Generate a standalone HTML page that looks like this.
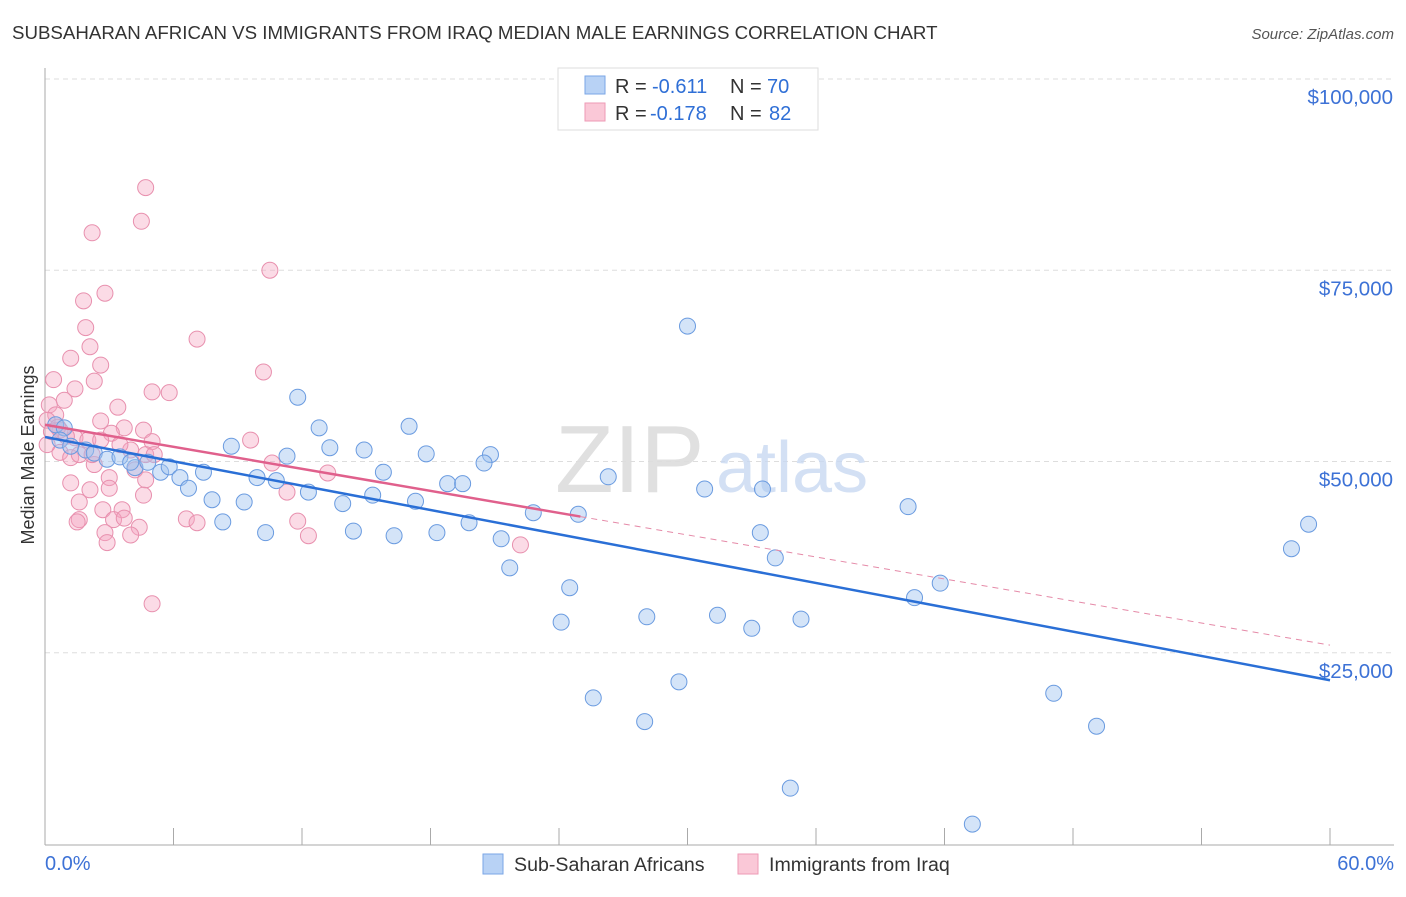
<!DOCTYPE html>
<html><head><meta charset="utf-8"><style>
body{margin:0;background:#fff;font-family:"Liberation Sans",sans-serif;}
svg text{font-family:"Liberation Sans",sans-serif;}
</style></head><body>
<svg id="chart" width="1406" height="892" xmlns="http://www.w3.org/2000/svg">
<text x="12" y="39" font-size="18.7" fill="#333">SUBSAHARAN AFRICAN VS IMMIGRANTS FROM IRAQ MEDIAN MALE EARNINGS CORRELATION CHART</text>
<text x="1394" y="39" font-size="15" font-style="italic" fill="#555" text-anchor="end">Source: ZipAtlas.com</text>
<g id="grid"></g>
<text x="555" y="492" font-size="96" font-family="Liberation Serif" fill="#ddd" opacity="0.9">ZIP</text>
<text x="716" y="492" font-size="72" fill="#c9d9f2" opacity="0.8">atlas</text>
<line x1="45" y1="845" x2="1394" y2="845" stroke="#aaa"/>
<line x1="45" y1="68" x2="45" y2="845" stroke="#aaa"/>
<text transform="translate(34,455) rotate(-90)" font-size="18" fill="#333" text-anchor="middle">Median Male Earnings</text>
<g id="pts"></g>
<g id="lines"></g>
<g>
<rect x="558" y="68" width="260" height="62" fill="#fff" stroke="#ddd"/>
<rect x="585" y="76" width="20" height="18" fill="#b8d2f5" stroke="#7aa6e6"/>
<rect x="585" y="103" width="20" height="18" fill="#fac8d7" stroke="#ee9ab5"/>
<text x="615" y="93" font-size="20" fill="#333">R =</text>
<text x="652" y="93" font-size="20" fill="#2f6fd6">-0.611</text>
<text x="730" y="93" font-size="20" fill="#333">N =</text>
<text x="767" y="93" font-size="20" fill="#2f6fd6">70</text>
<text x="615" y="120" font-size="20" fill="#333">R =</text>
<text x="650" y="120" font-size="20" fill="#2f6fd6">-0.178</text>
<text x="730" y="120" font-size="20" fill="#333">N =</text>
<text x="769" y="120" font-size="20" fill="#2f6fd6">82</text>
</g>
<text x="45" y="870" font-size="20" fill="#3d72d6">0.0%</text>
<text x="1394" y="870" font-size="20" fill="#3d72d6" text-anchor="end">60.0%</text>
<g>
<rect x="483" y="854" width="20" height="20" fill="#b8d2f5" stroke="#7aa6e6"/>
<text x="514" y="871" font-size="19.6" fill="#333">Sub-Saharan Africans</text>
<rect x="738" y="854" width="20" height="20" fill="#fac8d7" stroke="#ee9ab5"/>
<text x="769" y="871" font-size="19.6" fill="#333">Immigrants from Iraq</text>
</g>
</svg>
<script>
const blueX=[30.0,11.8,12.8,17.0,8.7,13.3,14.9,17.8,11.3,20.8,20.5,15.8,9.9,10.8,26.3,18.8,19.5,12.3,15.3,17.3,7.8,9.3,13.9,30.8,33.5,40.3,22.8,24.9,8.3,19.8,10.3,14.4,16.3,18.3,21.3,33.4,34.1,21.7,24.5,59.0,58.2,41.8,40.6,24.1,28.1,31.4,33.0,35.3,25.6,29.6,28.0,47.1,49.1,34.8,43.3,0.5,0.9,0.7,1.2,1.9,2.3,2.9,3.5,4.2,4.8,5.4,5.8,6.3,6.7,7.4,4.0];
const blueY=[67.7,58.4,54.4,54.6,52.0,51.8,51.5,51.0,50.7,50.9,49.8,48.6,47.9,47.5,48.0,47.1,47.1,46.0,45.6,44.8,45.0,44.7,44.5,46.4,46.4,44.1,43.3,43.1,42.1,42.0,40.7,40.9,40.3,40.7,39.9,40.7,37.4,36.1,33.5,41.8,38.6,34.1,32.2,29.0,29.7,29.9,28.2,29.4,19.1,21.2,16.0,19.7,15.4,7.3,2.6,54.8,54.4,52.8,52.0,51.5,51.1,50.3,50.6,49.2,49.9,48.6,49.3,47.9,46.5,48.6,49.9];
const pinkX=[4.7,4.5,2.2,10.5,2.8,1.8,1.9,7.1,2.1,1.2,2.6,10.2,0.4,2.3,1.4,5.0,5.8,0.9,0.2,3.4,2.6,0.5,0.7,3.7,4.6,3.1,5.0,9.6,1.4,2.0,2.6,0.7,1.2,1.6,2.3,4.0,4.7,10.6,13.2,4.2,3.0,4.7,1.2,2.1,3.0,11.3,4.6,1.6,3.6,2.7,1.6,3.2,1.5,3.7,6.6,7.1,11.8,12.3,4.4,2.8,4.0,2.9,22.2,5.0,0.1,0.3,0.6,1.0,0.1,5.1,3.5,2.2];
const pinkY=[85.8,81.4,79.9,75.0,72.0,71.0,67.5,66.0,65.0,63.5,62.6,61.7,60.7,60.5,59.5,59.1,59.0,58.0,57.4,57.1,55.3,56.1,54.1,54.4,54.1,53.7,52.6,52.8,53.1,52.8,52.8,51.2,50.5,50.9,49.6,51.5,50.9,49.8,48.5,48.9,47.9,47.6,47.2,46.3,46.5,46.0,45.6,44.7,43.7,43.7,42.4,42.4,42.1,42.6,42.5,42.0,42.2,40.3,41.4,40.7,40.4,39.4,39.1,31.4,55.4,53.9,54.5,53.3,52.2,50.9,52.2,50.9];
const yTicks=[100,75,50,25];
const yTickLabels=["$100,000","$75,000","$50,000","$25,000"];
const xTicks=[0,6,12,18,24,30,36,42,48,54,60];
const blueTrend=[53.2,21.4];
const pinkTrend=[54.8,26.0];
const pinkSolidEnd=25;
const NS="http://www.w3.org/2000/svg";
const sx=p=>45+p/60*1285;
const sy=v=>844-v/100*765;
function mk(t,a,parent){const e=document.createElementNS(NS,t);for(const k in a)e.setAttribute(k,a[k]);parent.appendChild(e);return e;}
const grid=document.getElementById('grid');
yTicks.forEach((v,i)=>{
 const l=mk('line',{x1:45,x2:1394,y1:sy(v),y2:sy(v),stroke:'#ddd','stroke-dasharray':'5,4'},grid);
 
 
 const t=mk('text',{x:1393,y:sy(v)+25,'font-size':20.5,fill:'#3d72d6','text-anchor':'end'},grid);
 t.textContent=yTickLabels[i];
 
 
});
xTicks.forEach(p=>{
 const l=mk('line',{x1:sx(p),x2:sx(p),y1:828,y2:845,stroke:'#aaa'},grid);
 
 
});
const pts=document.getElementById('pts');
pinkX.forEach((x,i)=>{
 const c=mk('circle',{cx:sx(x),cy:sy(pinkY[i]),r:8,fill:'rgba(245,165,192,0.4)',stroke:'#e890ae','stroke-width':1},pts);
 
 
});
blueX.forEach((x,i)=>{
 const c=mk('circle',{cx:sx(x),cy:sy(blueY[i]),r:8,fill:'rgba(160,196,240,0.45)',stroke:'#6a9be0','stroke-width':1},pts);
 
 
});
const lines=document.getElementById('lines');
const pAt=p=>pinkTrend[0]+(pinkTrend[1]-pinkTrend[0])*p/60;
let l1=mk('line',{x1:sx(0),y1:sy(blueTrend[0]),x2:sx(60),y2:sy(blueTrend[1]),stroke:'#2a6fd6','stroke-width':2.5},lines);


let l2=mk('line',{x1:sx(0),y1:sy(pAt(0)),x2:sx(pinkSolidEnd),y2:sy(pAt(pinkSolidEnd)),stroke:'#e0608c','stroke-width':2.5},lines);


let l3=mk('line',{x1:sx(pinkSolidEnd),y1:sy(pAt(pinkSolidEnd)),x2:sx(60),y2:sy(pAt(60)),stroke:'#e58aa8','stroke-width':1,'stroke-dasharray':'6,5'},lines);


</script>
</body></html>
